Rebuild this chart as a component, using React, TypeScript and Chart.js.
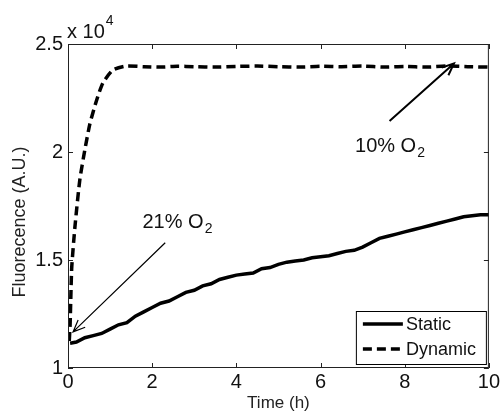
import React, { useEffect, useRef } from "react";
import { Chart, registerables } from "chart.js";

Chart.register(...registerables);

const xTicks = [0, 2, 4, 6, 8, 10];
const yTicks = [10000, 15000, 20000, 25000];

const staticT = [0.05, 0.2, 0.4, 0.6, 0.8, 1.0, 1.2, 1.4, 1.6, 1.8, 2.0, 2.2, 2.4, 2.6, 2.8, 3.0, 3.2, 3.4, 3.6, 3.8, 4.0, 4.2, 4.4, 4.6, 4.8, 5.0, 5.2, 5.4, 5.6, 5.8, 6.0, 6.2, 6.4, 6.6, 6.8, 7.0, 7.2, 7.4, 7.6, 7.8, 8.0, 8.2, 8.4, 8.6, 8.8, 9.0, 9.2, 9.4, 9.6, 9.8, 10.0];
const staticV = [11150, 11200, 11400, 11500, 11600, 11800, 12000, 12100, 12400, 12600, 12800, 13000, 13100, 13300, 13500, 13600, 13800, 13900, 14100, 14200, 14300, 14350, 14400, 14600, 14650, 14800, 14900, 14950, 15000, 15100, 15150, 15200, 15300, 15400, 15450, 15600, 15800, 16000, 16100, 16200, 16300, 16400, 16500, 16600, 16700, 16800, 16900, 17000, 17050, 17100, 17100];

const dynT = [0.03, 0.05, 0.07, 0.09, 0.165, 0.28, 0.4, 0.52, 0.68, 0.83, 1.07, 1.38, 1.8, 2.2, 2.6, 3.0, 3.5, 4.0, 4.5, 5.0, 5.5, 6.0, 6.5, 7.0, 7.5, 8.0, 8.5, 9.0, 9.5, 10.0];
const dynV = [11250, 12000, 13500, 14700, 16540, 18700, 20100, 21300, 22400, 23200, 23800, 23980, 23950, 23930, 23970, 23950, 23930, 23960, 23980, 23950, 23930, 23970, 23950, 23980, 23930, 23960, 23930, 23980, 23950, 23930];

const seriesNames = ["Static", "Dynamic"];
const yTitle = "Fluorecence (A.U.)";
const xTitle = "Time (h)";

const FONT = "'Liberation Sans', Arial, sans-serif";

function drawArrow(ctx: CanvasRenderingContext2D, x1: number, y1: number, x2: number, y2: number, w: number, head: number) {
  ctx.save();
  ctx.strokeStyle = "#000";
  ctx.lineWidth = w;
  ctx.beginPath();
  ctx.moveTo(x1, y1);
  ctx.lineTo(x2, y2);
  const a = Math.atan2(y2 - y1, x2 - x1);
  ctx.moveTo(x2 - head * Math.cos(a - 0.4), y2 - head * Math.sin(a - 0.4));
  ctx.lineTo(x2, y2);
  ctx.lineTo(x2 - head * Math.cos(a + 0.4), y2 - head * Math.sin(a + 0.4));
  ctx.stroke();
  ctx.restore();
}

function drawO2(ctx: CanvasRenderingContext2D, prefix: string, x: number, y: number) {
  ctx.save();
  ctx.fillStyle = "#111";
  ctx.textBaseline = "alphabetic";
  ctx.textAlign = "left";
  ctx.font = `20px ${FONT}`;
  const t = prefix + " O";
  ctx.fillText(t, x, y);
  const w = ctx.measureText(t).width;
  ctx.font = `14px ${FONT}`;
  ctx.fillText("2", x + w + 1, y + 5);
  ctx.restore();
}

const decorPlugin = {
  id: "decor",
  afterDatasetsDraw(chart: any) {
    const { ctx, chartArea: ca, scales } = chart;
    const xs = scales.x;
    const ys = scales.y;
    ctx.save();
    ctx.strokeStyle = "#222";
    ctx.lineWidth = 1;
    ctx.strokeRect(ca.left + 0.5, ca.top + 0.5, ca.right - ca.left - 1, ca.bottom - ca.top - 1);
    const tl = 5;
    ctx.beginPath();
    for (const v of xTicks) {
      const px = Math.round(xs.getPixelForValue(v)) + 0.5;
      ctx.moveTo(px, ca.bottom);
      ctx.lineTo(px, ca.bottom - tl);
      ctx.moveTo(px, ca.top);
      ctx.lineTo(px, ca.top + tl);
    }
    for (const v of yTicks) {
      const py = Math.round(ys.getPixelForValue(v)) + 0.5;
      ctx.moveTo(ca.left, py);
      ctx.lineTo(ca.left + tl, py);
      ctx.moveTo(ca.right, py);
      ctx.lineTo(ca.right - tl, py);
    }
    ctx.stroke();

    ctx.fillStyle = "#111";
    ctx.textAlign = "left";
    ctx.textBaseline = "alphabetic";
    ctx.font = `20px ${FONT}`;
    ctx.fillText("x 10", ca.left - 1, ca.top - 6);
    const w = ctx.measureText("x 10").width;
    ctx.font = `14px ${FONT}`;
    ctx.fillText("4", ca.left - 1 + w + 1, ca.top - 19);

    ctx.save();
    ctx.font = `18px ${FONT}`;
    ctx.fillStyle = "#222";
    ctx.textAlign = "center";
    ctx.textBaseline = "middle";
    ctx.translate(20, (ca.top + ca.bottom) / 2 + 16);
    ctx.rotate(-Math.PI / 2);
    ctx.fillText(yTitle, 0, 0);
    ctx.restore();

    drawArrow(ctx, xs.getPixelForValue(2.31), ys.getPixelForValue(15800), xs.getPixelForValue(0.12), ys.getPixelForValue(11670), 1.2, 13);
    drawO2(ctx, "21%", xs.getPixelForValue(1.77), ys.getPixelForValue(16480));
    drawArrow(ctx, xs.getPixelForValue(7.64), ys.getPixelForValue(21430), xs.getPixelForValue(9.17), ys.getPixelForValue(24100), 2, 13);
    drawO2(ctx, "10%", xs.getPixelForValue(6.82), ys.getPixelForValue(20000));

    const bw = 130, bh = 53;
    const bx = ca.right - 3 - bw;
    const by = ca.bottom - 4 - bh;
    ctx.fillStyle = "#fff";
    ctx.fillRect(bx, by, bw, bh);
    ctx.strokeStyle = "#000";
    ctx.lineWidth = 1;
    ctx.strokeRect(bx + 0.5, by + 0.5, bw, bh);
    chart.data.datasets.forEach((ds: any, i: number) => {
      const ly = by + 13 + i * 25;
      ctx.save();
      ctx.strokeStyle = ds.borderColor;
      ctx.lineWidth = ds.borderWidth;
      ctx.setLineDash(ds.borderDash || []);
      ctx.beginPath();
      ctx.moveTo(bx + 7, ly);
      ctx.lineTo(bx + 47, ly);
      ctx.stroke();
      ctx.restore();
      ctx.fillStyle = "#111";
      ctx.font = `18px ${FONT}`;
      ctx.textAlign = "left";
      ctx.textBaseline = "middle";
      ctx.fillText(ds.label, bx + 50, ly + 1);
    });
    ctx.restore();
  },
};

export default function App() {
  const ref = useRef<HTMLCanvasElement>(null);
  useEffect(() => {
    if (!ref.current) return;
    const chart = new Chart(ref.current, {
      type: "line",
      data: {
        datasets: [
          {
            label: seriesNames[0],
            data: staticT.map((t, i) => ({ x: t, y: staticV[i] })),
            borderColor: "#000",
            borderWidth: 3.5,
            pointRadius: 0,
            tension: 0,
            fill: false,
          },
          {
            label: seriesNames[1],
            data: dynT.map((t, i) => ({ x: t, y: dynV[i] })),
            borderColor: "#000",
            borderWidth: 3.5,
            borderDash: [9, 5],
            pointRadius: 0,
            tension: 0.2,
            fill: false,
          },
        ],
      },
      options: {
        animation: false,
        responsive: false,
        layout: { padding: { top: 44, right: 10, left: 0, bottom: 0 } },
        plugins: { legend: { display: false }, tooltip: { enabled: false } },
        scales: {
          x: {
            type: "linear",
            min: 0,
            max: 10,
            grid: { display: false, drawTicks: false },
            border: { display: false },
            ticks: {
              stepSize: 2,
              padding: 2,
              color: "#111",
              font: { family: FONT, size: 20 },
              maxRotation: 0,
            },
            title: {
              display: true,
              text: xTitle,
              color: "#222",
              font: { family: FONT, size: 17 },
              padding: { top: 0, bottom: 0 },
            },
            afterFit: (s: any) => {
              s.height = 46;
            },
          },
          y: {
            type: "linear",
            min: 10000,
            max: 25000,
            grid: { display: false, drawTicks: false },
            border: { display: false },
            ticks: {
              stepSize: 5000,
              padding: 5,
              color: "#111",
              font: { family: FONT, size: 20 },
              callback: (v: any) => String(Number(v) / 10000),
            },
            afterFit: (s: any) => {
              s.width = 68;
            },
          },
        },
      },
      plugins: [decorPlugin],
    });
    return () => chart.destroy();
  }, []);
  return (
    <div style={{ position: "absolute", left: 0, top: 0, width: 502, height: 414, background: "#fff" }}>
      <canvas ref={ref} width={502} height={414} style={{ display: "block" }} />
    </div>
  );
}
